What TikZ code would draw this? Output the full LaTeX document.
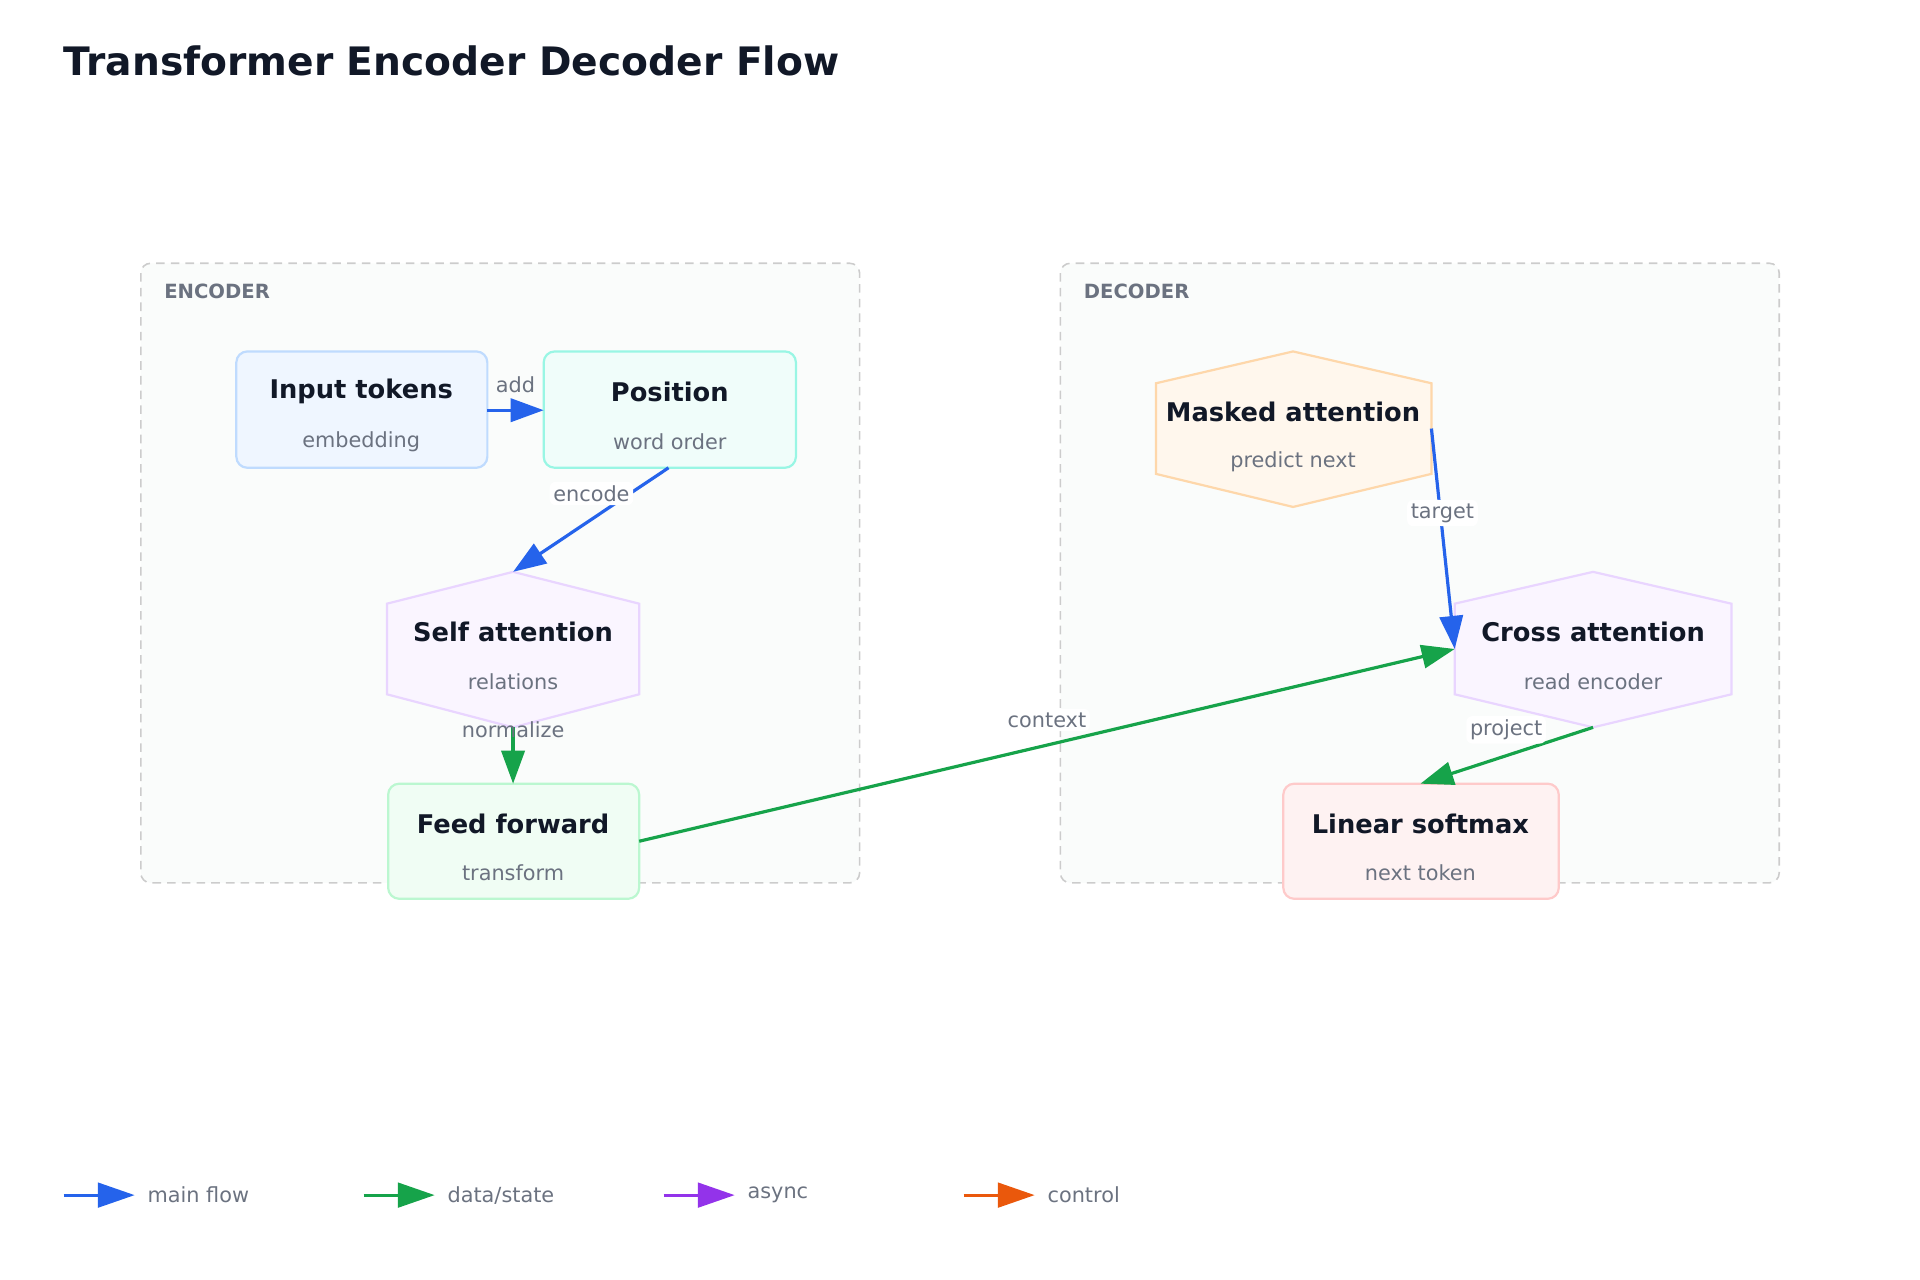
\documentclass[tikz,border=0pt]{standalone}
\usepackage{fontspec}
\setmainfont{DejaVu Sans}
\usetikzlibrary{arrows.meta}
\definecolor{cblue}{HTML}{2563EB}
\definecolor{cgreen}{HTML}{16A34A}
\definecolor{cpurple}{HTML}{9333EA}
\definecolor{corange}{HTML}{EA580C}
\definecolor{tdark}{HTML}{111827}
\definecolor{tgray}{HTML}{6B7280}
\definecolor{clfill}{HTML}{FAFCFB}
\definecolor{f1}{HTML}{EFF6FF}\definecolor{s1}{HTML}{BFDBFE}
\definecolor{f2}{HTML}{F0FDFA}\definecolor{s2}{HTML}{99F6E4}
\definecolor{f3}{HTML}{FAF5FF}\definecolor{s3}{HTML}{E9D5FF}
\definecolor{f4}{HTML}{F0FDF4}\definecolor{s4}{HTML}{BBF7D0}
\definecolor{f5}{HTML}{FFF7ED}\definecolor{s5}{HTML}{FED7AA}
\definecolor{f6}{HTML}{FEF2F2}\definecolor{s6}{HTML}{FECACA}
\begin{document}
\begin{tikzpicture}[x=1pt,y=-1pt,
  cluster/.style={draw=black!20,dash pattern=on 7pt off 5pt,line width=1.3pt,rounded corners=8pt,fill=clfill},
  clab/.style={anchor=west,font=\fontsize{16}{19}\selectfont\bfseries,text=tgray},
  box/.style={rounded corners=9pt,line width=1.8pt},
  ttl/.style={font=\fontsize{21}{25}\selectfont\bfseries,text=tdark},
  sub/.style={font=\fontsize{17}{20}\selectfont,text=tgray},
  elab/.style={font=\fontsize{17}{20}\selectfont,text=tgray,fill=white,inner sep=3pt,rounded corners=5pt},
  arr/.style={line width=2.6pt,-{Triangle[length=27pt,width=19pt]}}]
\useasboundingbox (0,0) rectangle (1568,1045);
\node[anchor=west,font=\fontsize{32}{38}\selectfont\bfseries,text=tdark,inner sep=0pt] (title) at (52,50) {Transformer Encoder Decoder Flow};
\draw[cluster] (115,215) rectangle (702,721);
\node[clab,inner sep=0pt] (encl) at (134,238) {ENCODER};
\draw[cluster] (866,215) rectangle (1453,721);
\node[clab,inner sep=0pt] (decl) at (885,238) {DECODER};
% nodes
\draw[box,fill=f1,draw=s1] (193,287) rectangle (398,382);
\node[ttl] (int) at (295,320) {Input tokens};
\node[sub] (ins) at (295,361) {embedding};
\draw[box,fill=f2,draw=s2] (444,287) rectangle (650,382);
\node[ttl] (pot) at (547,320) {Position};
\node[sub] (pos) at (547,361) {word order};
\draw[fill=f3,draw=s3,line width=1.8pt] (419,467)--(522,493)--(522,567)--(419,594)--(316,567)--(316,493)--cycle;
\node[ttl] (sat) at (419,516) {Self attention};
\node[sub] (sas) at (419,557) {relations};
\draw[box,fill=f4,draw=s4] (317,640) rectangle (522,734);
\node[ttl] (fft) at (419,673) {Feed forward};
\node[sub] (ffs) at (419,713) {transform};
\draw[fill=f5,draw=s5,line width=1.8pt] (1056,287)--(1169,313)--(1169,387)--(1056,414)--(944,387)--(944,313)--cycle;
\node[ttl] (mat) at (1056,336) {Masked attention};
\node[sub] (mas) at (1056,377) {predict next};
\draw[fill=f3,draw=s3,line width=1.8pt] (1301,467)--(1414,493)--(1414,567)--(1301,594)--(1188,567)--(1188,493)--cycle;
\node[ttl] (cat) at (1301,516) {Cross attention};
\node[sub] (cas) at (1301,557) {read encoder};
\draw[box,fill=f6,draw=s6] (1048,640) rectangle (1273,734);
\node[ttl] (lst) at (1160,673) {Linear softmax};
\node[sub] (lss) at (1160,713) {next token};
% anchor coordinates
\coordinate (inR) at (398,335); \coordinate (poL) at (444,335);
\coordinate (poB) at (546,382); \coordinate (saT) at (419,467);
\coordinate (saB) at (419,594); \coordinate (ffT) at (419,640);
\coordinate (ffR) at (522,687); \coordinate (caL) at (1188,530);
\coordinate (maR) at (1169,350); \coordinate (caB) at (1301,594);
\coordinate (lsT) at (1160,640);
% edges
\draw[arr,cblue] (inR) -- (poL);
\node[sub] (l1) at (421,314) {add};
\draw[arr,cblue] (poB) -- (saT);
\node[elab] (l2) at (483,403) {encode};
\draw[arr,cgreen] (saB) -- (ffT);
\node[sub] (l3) at (419,596) {normalize};
\draw[arr,cgreen] (ffR) -- (caL);
\node[elab] (l4) at (855,588) {context};
\draw[arr,cblue] (maR) -- (caL);
\node[elab] (l5) at (1178,419) {target};
\draw[arr,cgreen] (caB) -- (lsT);
\node[elab] (l6) at (1230,596) {project};
% legend
\foreach \x/\c [count=\i] in {52/cblue,297/cgreen,542/cpurple,787/corange}{
  \coordinate (a\i) at (\x,976); \coordinate (b\i) at (\x+58,976);
  \draw[\c,line width=2.6pt,-{Triangle[length=30pt,width=20pt]}] (a\i) -- (b\i);
}
\node[sub,anchor=west] (lg1) at (117,976) {main flow};
\node[sub,anchor=west] (lg2) at (362,976) {data/state};
\node[sub,anchor=west] (lg3) at (607,976) {async};
\node[sub,anchor=west] (lg4) at (852,976) {control};
\end{tikzpicture}
\end{document}
